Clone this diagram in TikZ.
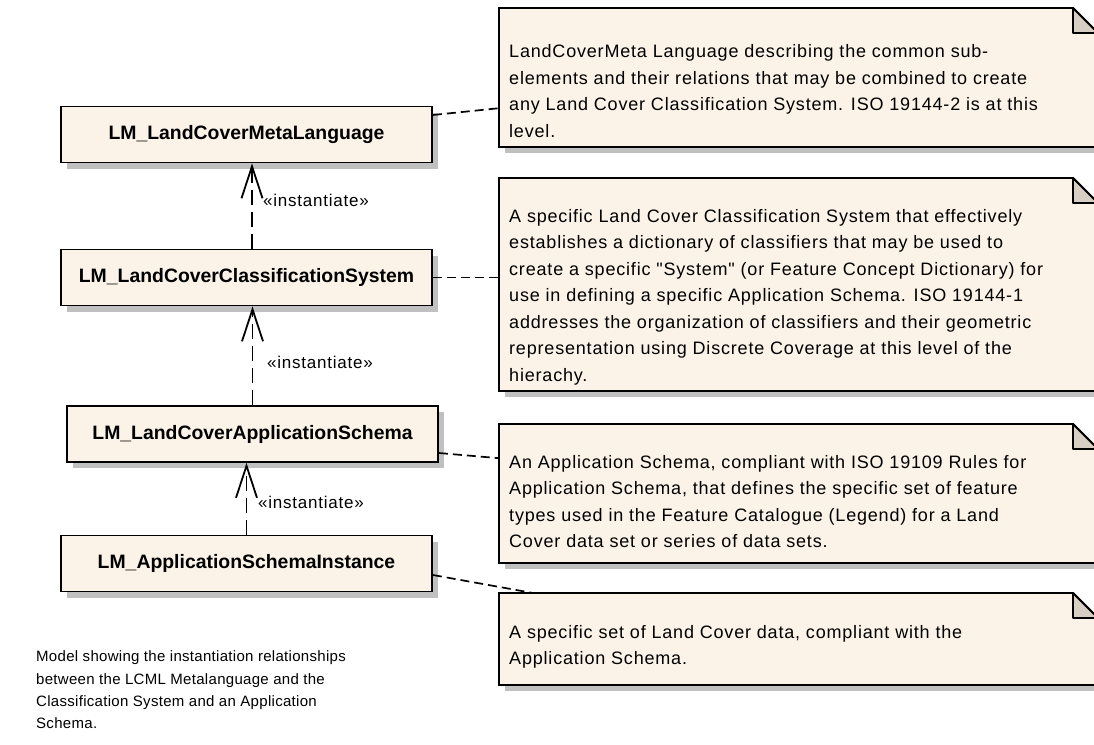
\documentclass[tikz,border=0pt]{standalone}
\usepackage{fontspec}
\setmainfont{Liberation Sans}
\newfontfamily\spacedfont[LetterSpace=4.5]{Liberation Sans}
\newfontfamily\captionfont[LetterSpace=2]{Liberation Sans}
\usetikzlibrary{arrows.meta, shadows}

\definecolor{umlFill}{RGB}{251,243,231}
\definecolor{umlFold}{RGB}{215,207,196}
\definecolor{umlShadow}{RGB}{192,192,192}

\tikzset{
    classBox/.style={draw, line width=1.8pt, fill=umlFill, minimum width=371pt, minimum height=56pt, inner sep=0pt,
        font=\bfseries\fontsize{19.4pt}{22pt}\selectfont,
        general shadow={fill=umlShadow, shadow xshift=6pt, shadow yshift=-6pt}},
    noteText/.style={anchor=north west, inner sep=0pt, align=left, font=\spacedfont\fontsize{18pt}{26.5pt}\selectfont},
    instLabel/.style={anchor=west, inner sep=0pt, font=\spacedfont\fontsize{17pt}{20pt}\selectfont},
    instantiate/.style={line width=1.8pt, dash pattern=on 15pt off 7pt, -{Straight Barb[length=32pt, width=21pt, line width=1.8pt]}},
    noteLink/.style={line width=1.7pt, dash pattern=on 9pt off 5pt}
}

\newcommand{\umlClass}[4]{
    \node[classBox] (#1) at (#2, #3) {#4};
}
\newcommand{\umlNote}[7]{
    % shadow, body, folded corner
    \fill[umlShadow] (#2+6, #3+31) rectangle (#2+#4+6, #3+#5+6);
    \draw[line width=1.8pt, fill=umlFill] (#2, #3) -- ++(#4-25, 0) -- ++(25, 25) -- ++(0, #5-25) -- ++(-#4, 0) -- cycle;
    \draw[line width=1.8pt, fill=umlFold, line join=round] (#2+#4-25, #3) -- ++(0, 25) -- ++(25, 0) -- cycle;
    \path (#2, #3) node[anchor=north west, minimum width=#4pt, minimum height=#5pt, inner sep=0pt](#1){};
    \node[noteText] (#1Text) at ([shift={(10pt, -#6pt)}]#1.north west) {\strut #7};
}

\begin{document}
\begin{tikzpicture}[x=1pt, y=-1pt]
    \useasboundingbox (0, 0) rectangle (1094, 744);
    \clip (0, 0) rectangle (1094, 744);

    \umlNote{metaNote}{499}{8}{599}{139}{31}{LandCoverMeta Language describing the common sub-\\
        elements and their relations that may be combined to create\\
        any Land Cover Classification System. ISO 19144-2 is at this\\
        level.}
    \umlNote{systemNote}{499}{178}{599}{213}{25.5}{A specific Land Cover Classification System that effectively\\
        establishes a dictionary of classifiers that may be used to\\
        create a specific "System" (or Feature Concept Dictionary) for\\
        use in defining a specific Application Schema. ISO 19144-1\\
        addresses the organization of classifiers and their geometric\\
        representation using Discrete Coverage at this level of the\\
        hierachy.}
    \umlNote{schemaNote}{499}{424}{599}{139}{25.5}{An Application Schema, compliant with ISO 19109 Rules for\\
        Application Schema, that defines the specific set of feature\\
        types used in the Feature Catalogue (Legend) for a Land\\
        Cover data set or series of data sets.}
    \umlNote{instanceNote}{499}{593}{599}{92}{26.5}{A specific set of Land Cover data, compliant with the\\
        Application Schema.}

    \umlClass{metaLanguage}{246.5}{134.5}{LM\_LandCoverMetaLanguage}
    \umlClass{classSystem}{246.5}{277.5}{LM\_LandCoverClassificationSystem}
    \umlClass{appSchema}{252.5}{434}{LM\_LandCoverApplicationSchema}
    \umlClass{schemaInstance}{246.5}{563.5}{LM\_ApplicationSchemaInstance}

    \draw[instantiate] ([xshift=5.5pt]classSystem.north) -- ([xshift=5.5pt]metaLanguage.south);
    \draw[instantiate] (appSchema.north) -- (appSchema.north |- classSystem.south);
    \draw[instantiate] (schemaInstance.north) -- (schemaInstance.north |- appSchema.south);

    \node[instLabel] (instA) at (263, 200) {«instantiate»};
    \node[instLabel] (instB) at (267, 362) {«instantiate»};
    \node[instLabel] (instC) at (258, 502) {«instantiate»};

    \draw[noteLink] ([yshift=19.5pt]metaLanguage.east) -- ([yshift=-30.5pt]metaNote.west);
    \draw[noteLink] (classSystem.east) -- (classSystem.east -| systemNote.west);
    \draw[noteLink] ([yshift=-19pt]appSchema.east) -- ([yshift=35.5pt]schemaNote.west);
    \draw[noteLink] ([yshift=-11.5pt]schemaInstance.east) -- ([xshift=34pt]instanceNote.north west);

    \node[anchor=north west, inner sep=0pt, align=left, font=\captionfont\fontsize{15pt}{22.3pt}\selectfont] (caption) at (36, 646)
        {\strut Model showing the instantiation relationships\\
        between the LCML Metalanguage and the\\
        Classification System and an Application\\
        Schema.};
\end{tikzpicture}
\end{document}
